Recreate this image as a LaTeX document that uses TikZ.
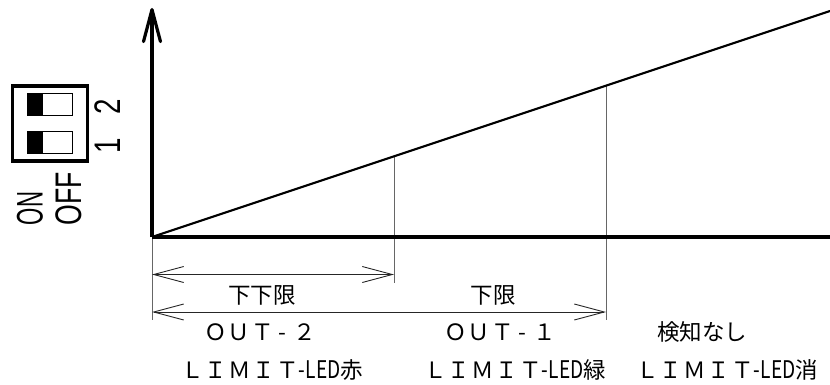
\documentclass[tikz,border=0pt]{standalone}
\usepackage{fontspec}
\usepackage{graphicx}
\usepackage{tikz}
\usetikzlibrary{arrows.meta}
\setmainfont{Liberation Sans}
\newfontfamily\jpfont{Noto Sans CJK JP}
\newfontfamily\jpwide[LetterSpace=6]{Noto Sans CJK JP}
\newcommand{\limitled}[1]{{\jpwide ＬＩＭＩＴ}\scalebox{.85}[1.08]{-LED}#1}
\begin{document}
\begin{tikzpicture}[x=1pt,y=-1pt,
  axisline/.style={line width=3.6pt,draw=black},
  riseline/.style={line width=2.2pt,draw=black},
  thinline/.style={line width=1pt,draw=black!60},
  dimline/.style={{Straight Barb[length=30pt,width=16pt,line width=.9pt]}-{Straight Barb[length=30pt,width=16pt,line width=.9pt]},line width=.9pt,draw=black!85},
  yaxis/.style={-{Straight Barb[length=32pt,width=17pt,line width=3.2pt,round]},line width=3.2pt},
  lbl/.style={font=\fontsize{22.5}{24}\jpfont,inner sep=0pt},
  widelbl/.style={font=\fontsize{22.5}{24}\jpwide,inner sep=0pt},
  swbody/.style={draw=black,line width=3.2pt,fill=white,minimum width=75pt,minimum height=75pt,inner sep=0pt},
  swslot/.style={draw=black,line width=1.6pt,fill=white,minimum width=45pt,minimum height=22pt,inner sep=0pt},
  swknob/.style={fill=black,minimum width=16pt,minimum height=23pt,inner sep=0pt},
  swtext/.style={rotate=90,font=\fontsize{37}{38}\selectfont,inner sep=0pt}]
\useasboundingbox (0,0) rectangle (830,385);
\coordinate (O) at (152,237);
\coordinate (T) at (152,8);
\coordinate (R) at (830,237);
\coordinate (E) at (830,11);
\coordinate (A) at (394,155);
\coordinate (B) at (606,85);
\coordinate (A1) at (394,283);
\coordinate (B1) at (606,320);
\coordinate (O1) at (152,320);
\coordinate (D0) at (152,274.5);
\coordinate (D1) at (394,274.5);
\coordinate (F0) at (152,312);
\coordinate (F1) at (606,312);
\draw[thinline] (O)--(O1);
\draw[thinline] (A)--(A1);
\draw[thinline] (B)--(B1);
\draw[dimline] (D0)--(D1);
\draw[dimline] (F0)--(F1);
\draw[riseline] (O)--(E);
\draw[axisline] (O)--(R);
\draw[yaxis] (O)--(T);
\node[swbody] (SW) at (50,123.5) {};
\node[swslot] (S2) at (50,104.5) {};
\node[swslot] (S1) at (50,142.5) {};
\node[swknob] (K2) at (35,104.5) {};
\node[swknob] (K1) at (35,142.5) {};
\node[swtext] (N2) at (107.5,107) {\scalebox{.75}[1]{2}};
\node[swtext] (N1) at (107.5,146) {\scalebox{.75}[1]{1}};
\node[swtext] (ON) at (30,208.5) {\scalebox{.6}[1]{ON}};
\node[swtext] (OFF) at (68.5,198.5) {\scalebox{.72}[1]{OFF}};
\node[lbl] (LL) at (262,295) {下下限};
\node[lbl] (L) at (493,295) {下限};
\node[widelbl] (O2) at (260,332) {ＯＵＴ\,-\,\,２};
\node[widelbl] (O1t) at (500,332) {ＯＵＴ\,-\,\,１};
\node[lbl] (NA) at (702,332) {検知なし};
\node[lbl] (R1) at (272,370) {\limitled{赤}};
\node[lbl] (R2) at (515,370) {\limitled{緑}};
\node[lbl] (R3) at (727,370) {\limitled{消}};
\end{tikzpicture}
\end{document}
